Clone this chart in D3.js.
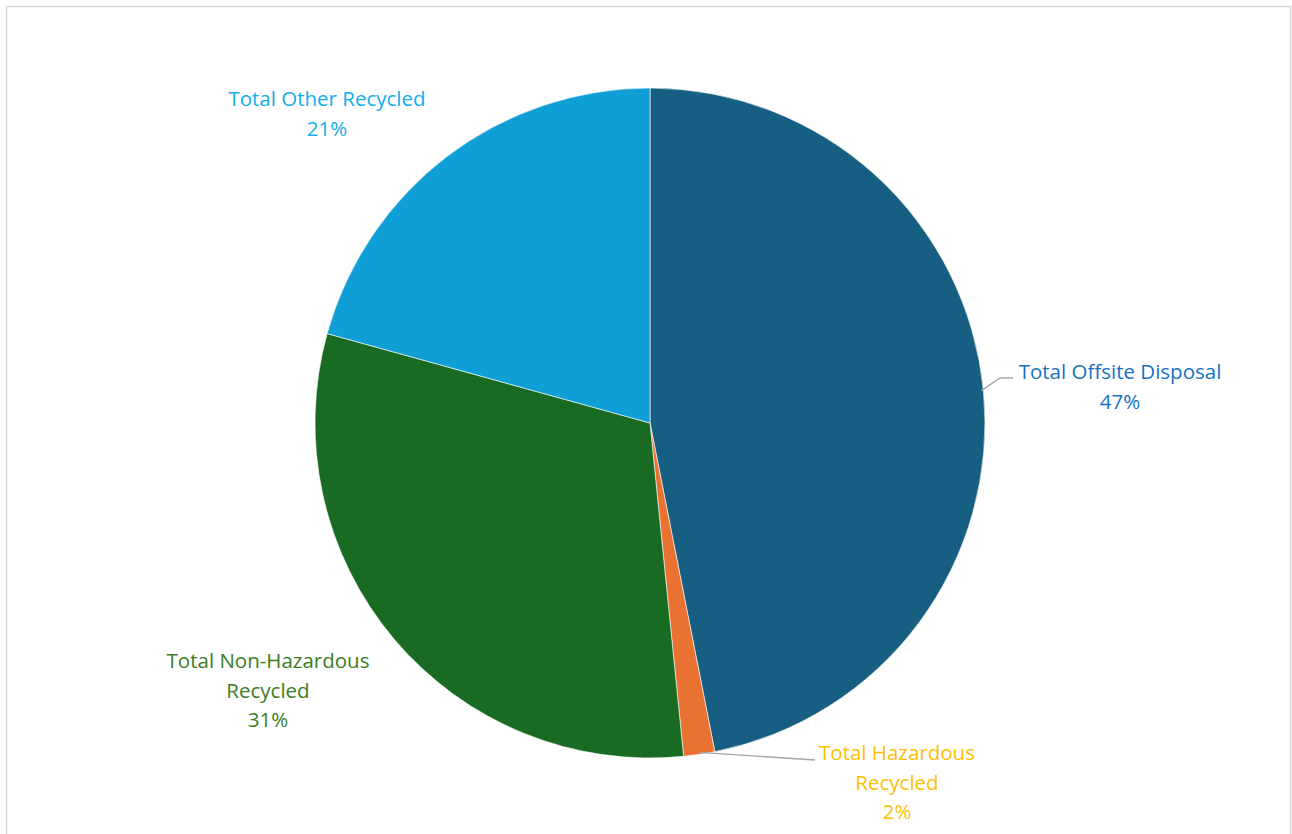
<!DOCTYPE html>
<html>
<head>
<meta charset="utf-8">
<script src="https://cdn.jsdelivr.net/npm/d3@7"></script>
<style>
  html, body { margin: 0; padding: 0; background: #fff; }
  svg { display: block; }
</style>
</head>
<body>
<svg id="chart" width="1292" height="834"></svg>
<script>
  // Data
  var categories = ['Total Offsite Disposal', 'Total Hazardous Recycled', 'Total Non-Hazardous Recycled', 'Total Other Recycled'];
  var values = [46.9, 1.5, 30.9, 20.7];
  var percentLabels = ['47%', '2%', '31%', '21%'];
  var labelLines = [
    ['Total Offsite Disposal'],
    ['Total Hazardous', 'Recycled'],
    ['Total Non-Hazardous', 'Recycled'],
    ['Total Other Recycled']
  ];

  // Styling
  var sliceColors = ['#175f82', '#e97132', '#196b24', '#0f9ed5'];
  var labelColors = ['#1672c4', '#ffc000', '#3b7d23', '#12aee9'];
  var labelCenters = [[1120, 0], [897, 0], [268, 0], [327, 0]];
  var labelTops = [379, 760, 668, 106];

  var svg = d3.select('#chart');
  var cx = 650;
  var cy = 423;
  var radius = 335;

  // Frame
  svg.append('rect')
    .attr('x', 6.5).attr('y', 6.5)
    .attr('width', 1284).attr('height', 840)
    .attr('fill', '#fff')
    .attr('stroke', '#d9d9d9')
    .attr('stroke-width', 1.5);

  var pie = d3.pie().sort(null).value(function (d) { return d; });
  var arc = d3.arc().innerRadius(0).outerRadius(radius);
  var arcs = pie(values);

  var g = svg.append('g').attr('transform', 'translate(' + cx + ',' + cy + ')');

  g.selectAll('path.slice')
    .data(arcs)
    .enter().append('path')
    .attr('class', 'slice')
    .attr('d', arc)
    .attr('fill', function (d, i) { return sliceColors[i]; })
    .attr('stroke', '#fff')
    .attr('stroke-width', 0.6);

  // Leader lines (offsite, hazardous)
  function edgePoint(d, r) {
    var a = (d.startAngle + d.endAngle) / 2;
    return [cx + Math.sin(a) * r, cy - Math.cos(a) * r];
  }
  var p0 = edgePoint(arcs[0], radius - 2);
  svg.append('polyline')
    .attr('points', [p0, [1000, 378], [1013, 378]].map(function (p) { return p.join(','); }).join(' '))
    .attr('fill', 'none')
    .attr('stroke', '#a6a6a6')
    .attr('stroke-width', 1.3);
  var p1 = edgePoint(arcs[1], radius - 2);
  svg.append('polyline')
    .attr('points', [p1, [815, 760]].map(function (p) { return p.join(','); }).join(' '))
    .attr('fill', 'none')
    .attr('stroke', '#a6a6a6')
    .attr('stroke-width', 1.3);

  // Labels
  var labels = svg.selectAll('text.label')
    .data(categories)
    .enter().append('text')
    .attr('class', 'label')
    .attr('text-anchor', 'middle')
    .attr('font-family', '"Open Sans", sans-serif')
    .attr('font-size', 20.5)
    .attr('fill', function (d, i) { return labelColors[i]; });

  labels.each(function (d, i) {
    var t = d3.select(this);
    var lines = labelLines[i].concat([percentLabels[i]]);
    lines.forEach(function (line, j) {
      t.append('tspan')
        .attr('x', labelCenters[i][0])
        .attr('y', labelTops[i] + j * 29.5)
        .text(line);
    });
  });
</script>
</body>
</html>
